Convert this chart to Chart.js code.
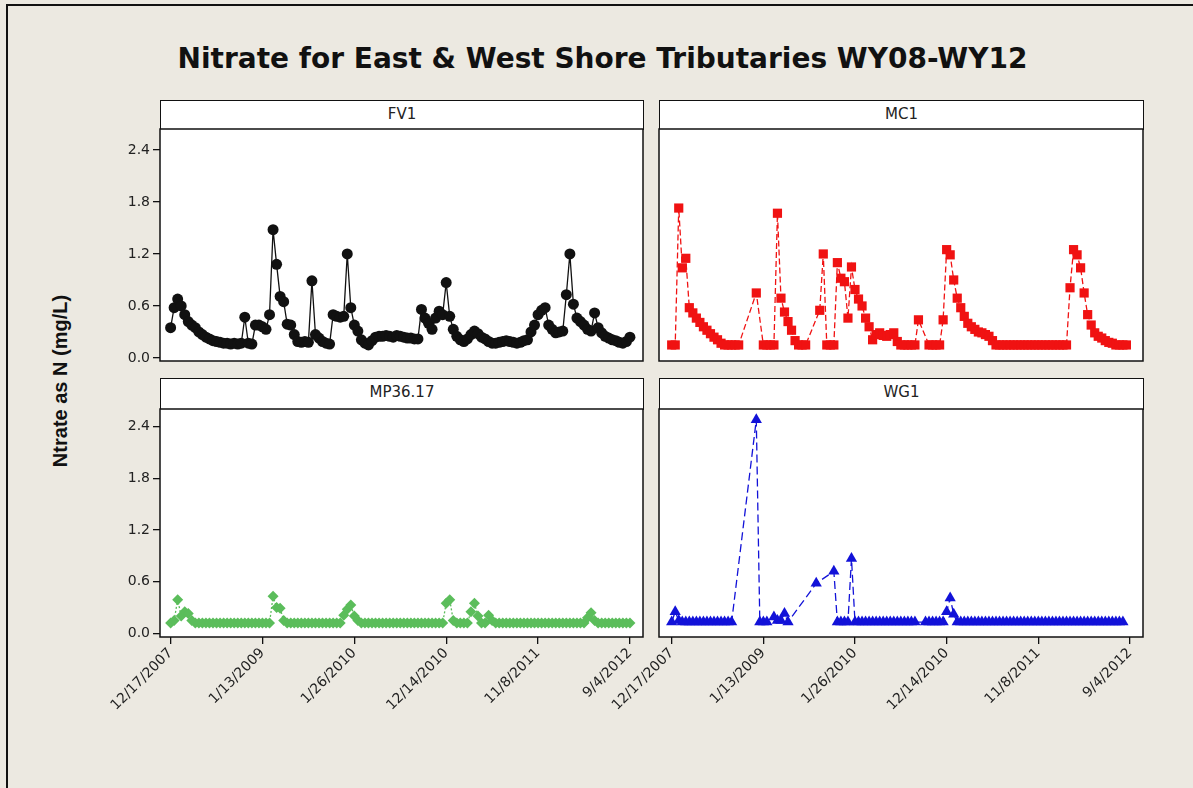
<!DOCTYPE html>
<html>
<head>
<meta charset="utf-8">
<script src="https://cdn.jsdelivr.net/npm/chart.js@4.4.1/dist/chart.umd.min.js"></script>
<style>
  html, body { margin: 0; padding: 0; }
  body { width: 1193px; height: 788px; background: #ece9e1; position: relative; overflow: hidden; }
  #frame { position: absolute; left: 6px; top: 4px; width: 1200px; height: 800px; border-left: 2px solid #111; border-top: 2px solid #111; }
  #title { position: absolute; left: 0; width: 1205px; top: 42px; text-align: center; font: bold 28px "DejaVu Sans"; color: #111; }
  #ylabel { position: absolute; left: 60px; top: 381px; transform: translate(-50%, -50%) rotate(-90deg); font: bold 20px "Liberation Sans"; color: #111; white-space: nowrap; }
  .strip { position: absolute; background: #fff; border: 1.5px solid #111; box-sizing: border-box; text-align: center; font: 15px "DejaVu Sans"; color: #222; line-height: 27px; }
  canvas { position: absolute; }
</style>
</head>
<body>
<div id="frame"></div>
<div id="title">Nitrate for East &amp; West Shore Tributaries WY08-WY12</div>
<div id="ylabel">Ntrate as N (mg/L)</div>
<div class="strip" style="left:160px;top:100px;width:484px;height:30px">FV1</div>
<div class="strip" style="left:659px;top:100px;width:485px;height:30px">MC1</div>
<div class="strip" style="left:160px;top:378px;width:484px;height:32px">MP36.17</div>
<div class="strip" style="left:659px;top:378px;width:485px;height:32px">WG1</div>

<script>
// sample index of each x tick and its date label
const xTickIdx = [0, 26, 52, 78, 104, 130];
const xTickLabels = ['12/17/2007', '1/13/2009', '1/26/2010', '12/14/2010', '11/8/2011', '9/4/2012'];
const yTicks = [0, 0.6, 1.2, 1.8, 2.4];
const yTickLabels = ['0.0', '0.6', '1.2', '1.8', '2.4'];

// nitrate as N (mg/L), one value per sample, null = no sample
const fv1 = [
  0.35, 0.58, 0.68, 0.60, 0.50, 0.42, 0.38, 0.35, 0.30, 0.27,
  0.24, 0.22, 0.20, 0.19, 0.18, 0.17, 0.17, 0.16, 0.17, 0.16,
  0.17, 0.47, 0.17, 0.16, 0.38, 0.38, 0.36, 0.33, 0.50, 1.48,
  1.08, 0.71, 0.65, 0.39, 0.38, 0.27, 0.19, 0.18, 0.19, 0.18,
  0.89, 0.27, 0.23, 0.19, 0.17, 0.16, 0.50, 0.48, 0.47, 0.48,
  1.20, 0.58, 0.38, 0.31, 0.21, 0.17, 0.15, 0.20, 0.24, 0.25,
  0.25, 0.26, 0.25, 0.24, 0.26, 0.25, 0.24, 0.23, 0.23, 0.22,
  0.22, 0.56, 0.46, 0.40, 0.33, 0.46, 0.54, 0.50, 0.87, 0.48,
  0.33, 0.25, 0.21, 0.19, 0.22, 0.27, 0.31, 0.28, 0.24, 0.22,
  0.19, 0.17, 0.17, 0.18, 0.19, 0.20, 0.19, 0.18, 0.17, 0.18,
  0.20, 0.21, 0.30, 0.38, 0.50, 0.55, 0.58, 0.38, 0.33, 0.29,
  0.30, 0.31, 0.73, 1.20, 0.62, 0.46, 0.42, 0.38, 0.33, 0.31,
  0.52, 0.35, 0.29, 0.25, 0.23, 0.21, 0.20, 0.18, 0.17, 0.19,
  0.24
];
const mc1 = [
  0.15, 0.15, 1.73, 1.04, 1.15, 0.58, 0.52, 0.46, 0.41, 0.36,
  0.32, 0.28, 0.24, 0.21, 0.17, 0.15, 0.15, 0.15, 0.15, 0.15,
  null, null, null, null, 0.75, null, 0.15, 0.15, 0.15, 0.15,
  1.67, 0.69, 0.53, 0.42, 0.32, 0.20, 0.15, 0.15, 0.15, null,
  null, null, 0.55, 1.20, 0.15, 0.15, 0.15, 1.10, 0.92, 0.88,
  0.46, 1.05, 0.79, 0.68, 0.60, 0.46, 0.36, 0.21, 0.27, 0.29,
  0.26, 0.25, 0.27, 0.29, 0.19, 0.15, 0.15, 0.15, 0.15, 0.15,
  0.44, null, null, 0.15, 0.15, 0.15, 0.15, 0.44, 1.25, 1.19,
  0.90, 0.69, 0.58, 0.48, 0.40, 0.36, 0.33, 0.30, 0.29, 0.27,
  0.25, 0.20, 0.15, 0.15, 0.15, 0.15, 0.15, 0.15, 0.15, 0.15,
  0.15, 0.15, 0.15, 0.15, 0.15, 0.15, 0.15, 0.15, 0.15, 0.15,
  0.15, 0.15, 0.15, 0.81, 1.25, 1.19, 1.04, 0.75, 0.50, 0.38,
  0.29, 0.25, 0.23, 0.20, 0.18, 0.17, 0.15, 0.15, 0.15, 0.15,
  null
];
const mp3617 = [
  0.12, 0.15, 0.39, 0.20, 0.25, 0.23, 0.15, 0.12, 0.12, 0.12,
  0.12, 0.12, 0.12, 0.12, 0.12, 0.12, 0.12, 0.12, 0.12, 0.12,
  0.12, 0.12, 0.12, 0.12, 0.12, 0.12, 0.12, 0.12, 0.12, 0.43,
  0.30, 0.29, 0.15, 0.12, 0.12, 0.12, 0.12, 0.12, 0.12, 0.12,
  0.12, 0.12, 0.12, 0.12, 0.12, 0.12, 0.12, 0.12, 0.12, 0.21,
  0.28, 0.33, 0.20, 0.15, 0.12, 0.12, 0.12, 0.12, 0.12, 0.12,
  0.12, 0.12, 0.12, 0.12, 0.12, 0.12, 0.12, 0.12, 0.12, 0.12,
  0.12, 0.12, 0.12, 0.12, 0.12, 0.12, 0.12, 0.12, 0.35, 0.39,
  0.15, 0.12, 0.12, 0.12, 0.12, 0.25, 0.35, 0.20, 0.12, 0.12,
  0.21, 0.15, 0.12, 0.12, 0.12, 0.12, 0.12, 0.12, 0.12, 0.12,
  0.12, 0.12, 0.12, 0.12, 0.12, 0.12, 0.12, 0.12, 0.12, 0.12,
  0.12, 0.12, 0.12, 0.12, 0.12, 0.12, 0.12, 0.12, 0.18, 0.24,
  0.15, 0.12, 0.12, 0.12, 0.12, 0.12, 0.12, 0.12, 0.12, 0.12,
  0.12
];
const wg1 = [
  0.13, 0.25, 0.15, 0.13, 0.13, 0.13, 0.13, 0.13, 0.13, 0.13,
  0.13, 0.13, 0.13, 0.13, 0.13, 0.13, 0.13, 0.13, null, null,
  null, null, null, null, 2.48, 0.13, 0.13, 0.13, null, 0.19,
  0.15, 0.15, 0.23, 0.13, null, null, null, null, null, null,
  null, 0.58, null, null, null, null, 0.72, 0.13, 0.13, 0.13,
  0.13, 0.87, 0.13, 0.13, 0.13, 0.13, 0.13, 0.13, 0.13, 0.13,
  0.13, 0.13, 0.13, 0.13, 0.13, 0.13, 0.13, 0.13, 0.13, 0.13,
  null, null, 0.13, 0.13, 0.13, 0.13, 0.13, 0.13, 0.25, 0.41,
  0.22, 0.13, 0.13, 0.13, 0.13, 0.13, 0.13, 0.13, 0.13, 0.13,
  0.13, 0.13, 0.13, 0.13, 0.13, 0.13, 0.13, 0.13, 0.13, 0.13,
  0.13, 0.13, 0.13, 0.13, 0.13, 0.13, 0.13, 0.13, 0.13, 0.13,
  0.13, 0.13, 0.13, 0.13, 0.13, 0.13, 0.13, 0.13, 0.13, 0.13,
  0.13, 0.13, 0.13, 0.13, 0.13, 0.13, 0.13, 0.13, 0.13, null,
  null
];

const tickFont = { family: 'DejaVu Sans', size: 14 };

// white plot area + black box around it
const panelBox = {
  id: 'panelBox',
  beforeDraw(chart) {
    const a = chart.chartArea, ctx = chart.ctx;
    ctx.save();
    ctx.fillStyle = '#fff';
    ctx.fillRect(a.left, a.top, a.right - a.left, a.bottom - a.top);
    ctx.restore();
  },
  afterDraw(chart) {
    const a = chart.chartArea, ctx = chart.ctx;
    ctx.save();
    ctx.strokeStyle = '#111';
    ctx.lineWidth = 1.5;
    ctx.strokeRect(a.left, a.top, a.right - a.left, a.bottom - a.top);
    ctx.restore();
  }
};

function makePanel(p) {
  const canvas = document.createElement('canvas');
  canvas.width = p.w;
  canvas.height = p.h;
  canvas.style.left = p.left + 'px';
  canvas.style.top = p.top + 'px';
  document.body.appendChild(canvas);

  return new Chart(canvas, {
    type: 'line',
    data: {
      datasets: [{
        data: p.values.map((v, i) => ({ x: i, y: v })),
        borderColor: p.color,
        backgroundColor: p.color,
        borderWidth: 1.3,
        borderDash: p.dash,
        pointStyle: p.marker,
        pointRadius: p.radius,
        pointBorderWidth: 0,
        spanGaps: true,
        tension: 0,
        clip: 7
      }]
    },
    options: {
      responsive: false,
      animation: false,
      devicePixelRatio: 1,
      layout: { padding: p.pad },
      plugins: { legend: { display: false }, tooltip: { enabled: false } },
      scales: {
        x: {
          type: 'linear',
          display: p.showX,
          min: p.xMin,
          max: 133.7,
          afterBuildTicks: s => { s.ticks = xTickIdx.map(v => ({ value: v })); },
          afterFit: s => { s.height = p.showX ? 110 : 0; },
          ticks: {
            autoSkip: false,
            minRotation: 45,
            maxRotation: 45,
            padding: 1,
            color: '#222',
            font: tickFont,
            callback: (v, i) => xTickLabels[i]
          },
          grid: { drawOnChartArea: false, drawTicks: true, tickLength: 7, color: '#111', lineWidth: 1.3 },
          border: { display: false }
        },
        y: {
          display: p.showY,
          min: p.yMin,
          max: p.yMax,
          afterBuildTicks: s => { s.ticks = yTicks.map(v => ({ value: v })); },
          afterFit: s => { s.width = p.showY ? 160 : 0; },
          ticks: {
            padding: 3,
            color: '#222',
            font: tickFont,
            callback: (v, i) => yTickLabels[i]
          },
          grid: { drawOnChartArea: false, drawTicks: true, tickLength: 7, color: '#111', lineWidth: 1.3 },
          border: { display: false }
        }
      }
    },
    plugins: [panelBox]
  });
}

makePanel({ values: fv1, color: '#111', dash: [], marker: 'circle', radius: 5.5,
  left: 0, top: 109, w: 655, h: 272, pad: { left: 0, right: 12, top: 20, bottom: 20 },
  showX: false, showY: true, xMin: -3.0, yMin: -0.035, yMax: 2.642 });
makePanel({ values: mc1, color: '#f01212', dash: [6, 3], marker: 'rect', radius: 6.5,
  left: 559, top: 109, w: 596, h: 272, pad: { left: 100, right: 12, top: 20, bottom: 20 },
  showX: false, showY: false, xMin: -3.6, yMin: -0.035, yMax: 2.642 });
makePanel({ values: mp3617, color: '#5bbd5b', dash: [2, 2], marker: 'rectRot', radius: 5.5,
  left: 0, top: 389, w: 655, h: 370, pad: { left: 0, right: 12, top: 20, bottom: 12 },
  showX: true, showY: true, xMin: -3.0, yMin: -0.043, yMax: 2.605 });
makePanel({ values: wg1, color: '#1212d8', dash: [8, 4], marker: 'triangle', radius: 6.5,
  left: 559, top: 389, w: 596, h: 370, pad: { left: 100, right: 12, top: 20, bottom: 12 },
  showX: true, showY: false, xMin: -3.6, yMin: -0.043, yMax: 2.605 });
</script>
</body>
</html>
